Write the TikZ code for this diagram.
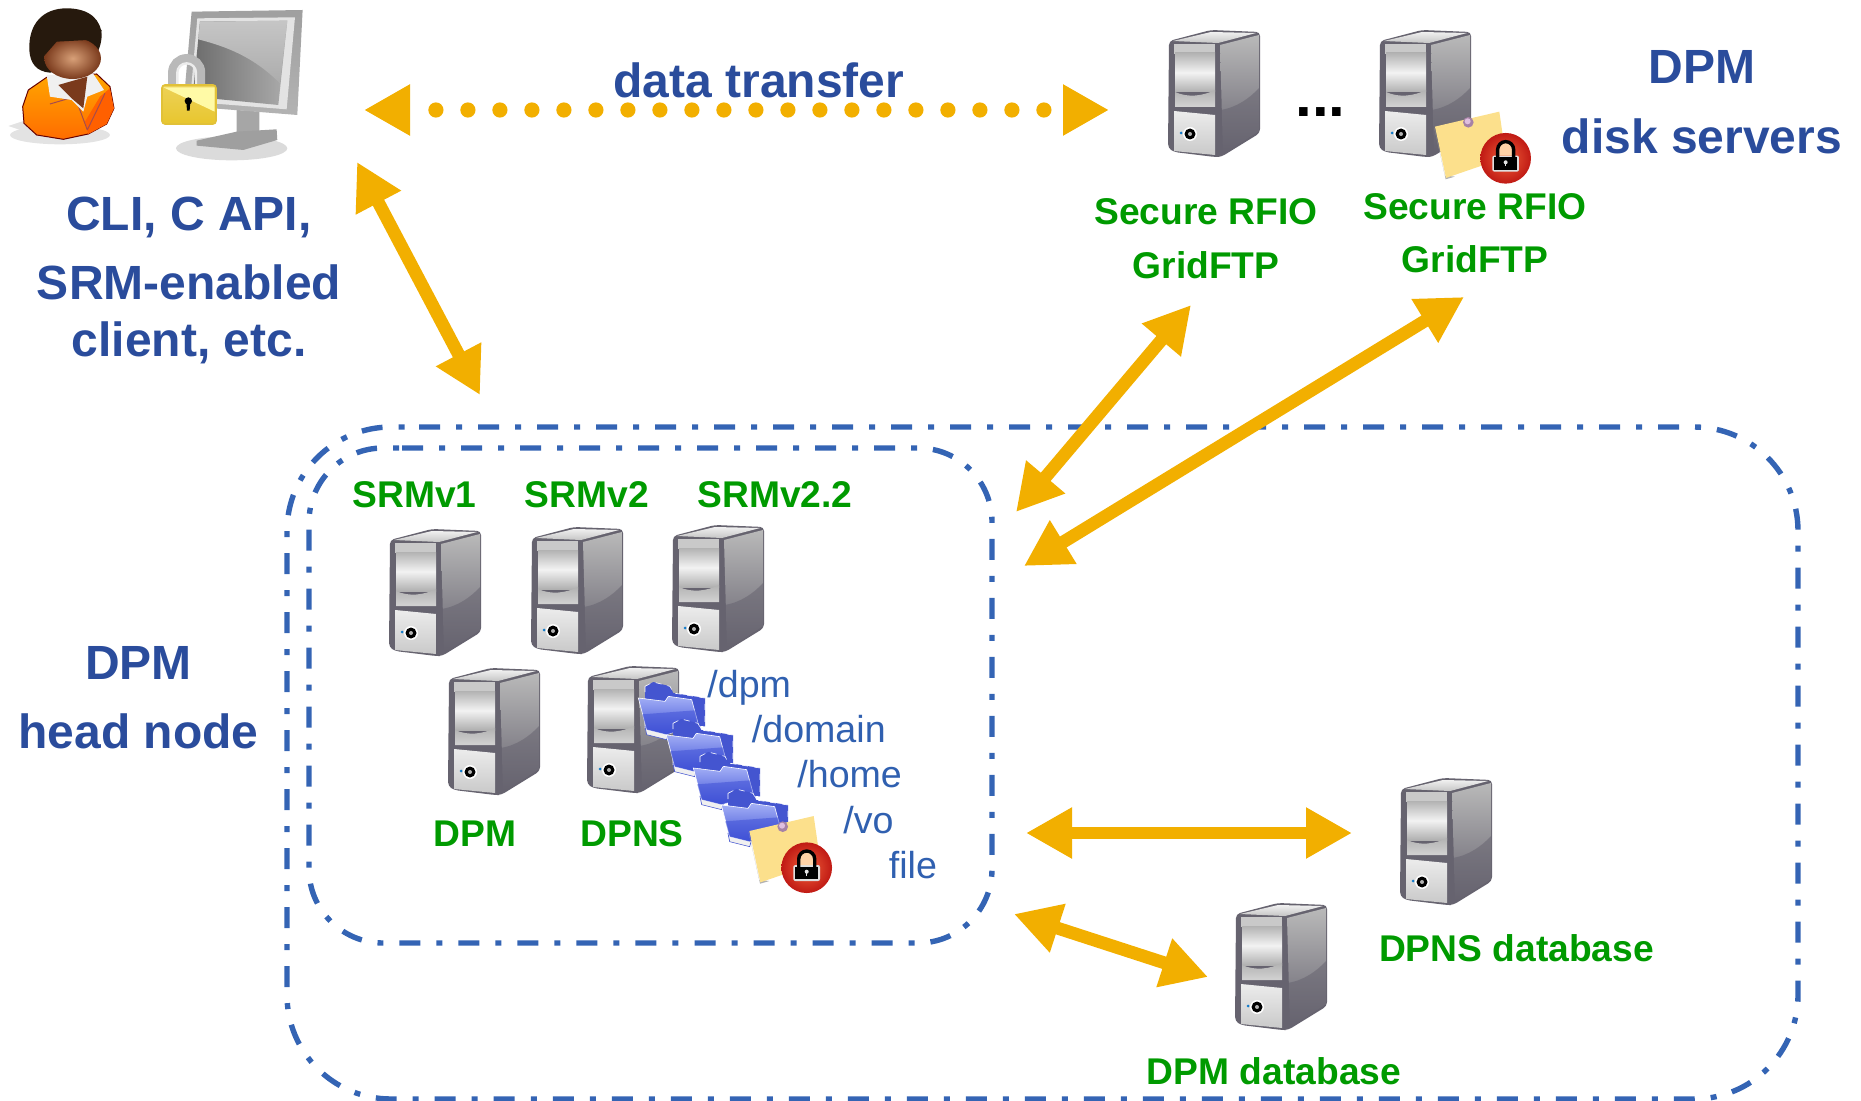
\documentclass[tikz,border=0pt]{standalone}
\usepackage{fontspec}
\setmainfont{Liberation Sans}
\usetikzlibrary{arrows.meta}
\definecolor{hblue}{HTML}{2A4C9C}
\definecolor{pblue}{HTML}{3060B0}
\definecolor{dblue}{HTML}{3464B4}
\definecolor{grn}{HTML}{009A00}
\definecolor{org}{HTML}{F2AF00}
\definecolor{srvdark}{HTML}{66636F}
\definecolor{fback}{HTML}{4455D0}
\definecolor{ftop}{HTML}{A4B0F6}
\definecolor{fbot}{HTML}{3E50D6}
\definecolor{skinout}{HTML}{7A3A1C}
\definecolor{skinin}{HTML}{D8A078}
\definecolor{lockgold}{HTML}{E8C62E}
\definecolor{notey}{HTML}{FCE08C}
\definecolor{discin}{HTML}{F0603A}
\definecolor{discout}{HTML}{C01A14}
\tikzset{
  x=0.5pt,y=-0.5pt,
  bighead/.style={font=\fontsize{24}{28}\selectfont\bfseries,text=hblue,anchor=base,inner sep=0pt},
  grnlab/.style={font=\fontsize{18.6}{22}\selectfont\bfseries,text=grn,anchor=base,inner sep=0pt},
  pathlab/.style={font=\fontsize{18.8}{22}\selectfont,text=pblue,anchor=base west,inner sep=0pt},
  boxline/.style={draw=dblue,line width=2.7pt,dash pattern=on 10.5pt off 8pt on 3pt off 8pt},
  bigarrow/.style={draw=org,line width=6.4pt,{Triangle[length=23pt,width=24pt,fill=org]}-{Triangle[length=23pt,width=24pt,fill=org]}},
  dotarrow/.style={draw=org,line width=7.6pt,line cap=round,dash pattern=on 0pt off 16pt,dash phase=1.6pt,
     {Triangle[length=23pt,width=24pt,fill=org]}-{Triangle[length=23pt,width=24pt,fill=org]}},
  srv/.pic={
    \fill[srvdark,rounded corners=2pt] (1,11)--(43,0)--(92,2)--(92,103)--(53,127)--(47,127)--(6,122)--(0,118)--cycle;
    \shade[top color=gray!12,bottom color=gray!45] (5,11)--(43,2)--(88,3)--(50,13)--cycle;
    \fill[gray!42] (6,14)--(47,14)--(47,24)--(6,24)--cycle;
    \shade[top color=gray!60,bottom color=gray!62,middle color=gray!10] (7,23)--(47,23)--(47,62)--(7,62)--cycle;
    \shade[top color=gray!60,bottom color=gray!35] (7,62)..controls (20,68) and (35,66) ..(47,60)--(47,77)--(7,77)--cycle;
    \shade[top color=gray!15,bottom color=gray!42] (6,81)--(47,85)--(47,125)--(6,121)--cycle;
    \shade[top color=gray!55,bottom color=srvdark] (52,15)--(91,5)--(91,101)--(55,124)--cycle;
    \fill[srvdark,opacity=.55] (52,80)..controls (68,78) and (82,68)..(91,58)--(91,101)--(55,124)--cycle;
    \fill[white] (22,104) circle[radius=7];
    \fill[black] (22,104) circle[radius=5.5];
    \fill[gray!60] (22,104) circle[radius=2];
    \fill[cyan!60!blue] (13,103) circle[radius=1.5];
  },
  folderpic/.pic={
    \fill[fback,draw=white,line width=.3pt,dashed] (0,13)--(25,0)--(75,13)--(85,33)--(180,48)--(180,133)--(0,143)--cycle;
    \fill[gray!12,draw=fback,line width=.3pt] (0,133)--(70,155)--(65,173)--(5,158)--cycle;
    \shade[top color=ftop,bottom color=fbot,draw=white,line width=.3pt]
       (-20,48)--(60,58)--(70,43)--(140,53)--(160,128)--(65,158)--(5,143)--cycle;
    \fill[fbot,opacity=.55] (-8,97)--(150,85)--(160,128)--(65,158)--(5,143)--cycle;
  },
}
% sticky note with red lock: #1,#2 pin position, #3,#4 lock-disc position
\newcommand{\secnote}[4]{%
  \begin{scope}[shift={(#1,#2)},scale=0.3333]
    \fill[gray!60] (-102,17)--(-68,171)--(-40,163)--(-70,160)--cycle;
    \fill[notey] (-100,13)--(93,-32)--(113,105)--(-67,167)--cycle;
    \fill[violet!40!gray!70] (0,0) circle[radius=16];
    \fill[violet!25!white] (-2,-3) circle[radius=9];
    \begin{scope}[shift={(#3,#4)}]
      \shade[inner color=discin,outer color=discout] (0,0) circle[radius=76];
      \fill[white!75!gray,rounded corners=1pt] (-40,-8) rectangle (40,40);
      \fill[orange!35!white] (-22,-8)--(-22,-26) arc[start angle=180,end angle=360,radius=22]--(22,-8)--cycle;
      \draw[black,line width=1.7pt] (-24,-2)--(-24,-26) arc[start angle=180,end angle=360,radius=24]--(24,-2);
      \fill[black] (-35,-3) rectangle (35,35);
      \fill[white!80!gray] (0,12) circle[radius=6];
      \fill[white!80!gray] (-2,12) rectangle (2,24);
    \end{scope}
  \end{scope}}
\begin{document}
\begin{tikzpicture}
\useasboundingbox (0,0) rectangle (1861,1101);
% person
\begin{scope}[scale=0.3333]
  \fill[gray!22] (180,405) ellipse[x radius=150,y radius=28];
  \fill[gray!22] (25,378)--(80,360)--(90,400)--cycle;
  \shade[top color=orange!70!yellow,bottom color=orange!85!red,draw=red!40!black,line width=.5pt]
    (140,232)--(290,222)--(330,260)--(342,325)--(320,372)--(265,402)--(190,418)--(110,405)--(72,370)--(68,320)--(85,270)--cycle;
  \fill[orange!75!red] (255,365)--(300,290)--(330,265)--(342,325)--(320,372)--(265,402)--cycle;
  \draw[red!50!black!70,line width=.5pt] (150,312)--(225,290)--(262,390) (262,390)--(315,280);
  \fill[gray!12] (140,225)--(280,222)--(312,270)--(262,290)--(250,335)--(215,300)--(150,290)--cycle;
  \fill[skinout] (175,255)--(262,230)--(250,325)--(215,295)--cycle;
  \fill[black!80!brown] (88,150)..controls (85,70) and (130,25) .. (200,25)..controls (270,25) and (305,60) ..(305,110)..controls (300,170) and (270,200)..(150,218)..controls(110,215) and (90,190)..(88,150)--cycle;
  \shade[inner color=skinin,outer color=skinout] (218,175) ellipse[x radius=85,y radius=62];
  \fill[black!80!brown] (135,165)--(170,125)--(300,118)--(305,90)--(150,70)--(110,130)--cycle;
  % monitor
  \fill[gray!28] (695,445) ellipse[x radius=167,y radius=36];
  \fill[gray!70] (710,330)--(778,335)--(778,400)--(710,400)--cycle;
  \fill[gray!75] (590,422)--(710,395)--(830,388)--(832,420)--(730,450)--(590,437)--cycle;
  \shade[top color=gray!75,bottom color=gray!60] (575,35)--(908,30)--(892,345)--(550,318)--cycle;
  \fill[gray!22] (592,55)--(885,52)--(860,328)--(570,305)--cycle;
  \shade[left color=gray!85!black,right color=gray!65] (600,65)--(862,62)--(835,315)--(578,290)--cycle;
  \shade[top color=gray!45,bottom color=gray!65] (600,65)--(862,62)--(840,250)..controls (760,170) and (680,140) ..(595,118)--cycle;
  \draw[gray!55,line width=4.6pt] (518,262)--(518,218) arc[start angle=180,end angle=360,radius=42]--(602,262);
  \draw[white!85!gray,line width=1.2pt] (532,262)--(532,218) arc[start angle=180,end angle=360,radius=28]--(588,262);
  \shade[top color=lockgold!80!white,bottom color=lockgold,draw=yellow!50!brown,line width=.8pt,rounded corners=1.5pt] (486,255) rectangle (648,372);
  \fill[yellow!35!white] (490,262)--(644,262)--(644,335)--cycle;
  \fill[black] (565,303) circle[radius=11];
  \fill[black] (559,303)--(571,303)--(569,332)--(561,332)--cycle;
\end{scope}
% servers
\pic (srvA) at (1168,30) {srv};
\pic (srvB) at (1379,30) {srv};
\pic (srvC) at (389,529) {srv};
\pic (srvD) at (531,527) {srv};
\pic (srvE) at (672,525) {srv};
\pic (srvF) at (448,668) {srv};
\pic (srvG) at (587,666) {srv};
\pic (srvH) at (1400,778) {srv};
\pic (srvI) at (1235,903) {srv};
% folders
\pic[scale=0.3333] (fa) at (645,682) {folderpic};
\pic[scale=0.3333] (fb) at (673,719) {folderpic};
\pic[scale=0.3333] (fc) at (700,752) {folderpic};
\pic[scale=0.3333] (fd) at (728,789) {folderpic};
\secnote{1468.3}{122.3}{112}{108}
\secnote{782.7}{826.7}{72}{123}
% dash-dot boxes
\draw[boxline,rounded corners=52pt] (419,427)--(1798,427)--(1798,1099)--(287,1099)--(287,427)--(419,427);
\draw[boxline,rounded corners=37pt] (402,448)--(992,448)--(992,943)--(309,943)--(309,448)--(402,448);
% text
\node[bighead] (t1) at (189,231) {CLI, C API,};
\node[bighead] (t2) at (189,300) {SRM-enabled};
\node[bighead] (t3) at (189,357) {client, etc.};
\node[bighead] (t4) at (759,98) {data transfer};
\node[bighead] (t5) at (1702,84) {DPM};
\node[bighead] (t6) at (1702,154) {disk servers};
\node[bighead] (t7) at (138.5,679) {DPM};
\node[bighead] (t8) at (138.5,748) {head node};
\node[grnlab] (g1) at (1206,225) {Secure RFIO};
\node[grnlab] (g2) at (1206,279) {GridFTP};
\node[grnlab] (g3) at (1475,220) {Secure RFIO};
\node[grnlab] (g4) at (1475,273) {GridFTP};
\node[grnlab] (g5) at (414.5,507) {SRMv1};
\node[grnlab] (g6) at (587,507) {SRMv2};
\node[grnlab] (g7) at (775,507) {SRMv2.2};
\node[grnlab] (g8) at (475,846) {DPM};
\node[grnlab] (g9) at (632,846) {DPNS};
\node[grnlab] (g10) at (1516.5,961) {DPNS database};
\node[grnlab] (g11) at (1274,1084) {DPM database};
\node[pathlab] (p1) at (707,697) {/dpm};
\node[pathlab] (p2) at (751.5,742) {/domain};
\node[pathlab] (p3) at (797,787) {/home};
\node[pathlab] (p4) at (843,833) {/vo};
\node[pathlab] (p5) at (888.5,878) {file};
\node[font=\fontsize{30}{34}\selectfont\bfseries,anchor=base,inner sep=0pt] (dots) at (1320.5,117) {...};
% connector ends
\coordinate (a1) at (357,162);
\coordinate (a2) at (480,395);
\coordinate (b1) at (1191,305);
\coordinate (b2) at (1016,512);
\coordinate (c1) at (1464,297);
\coordinate (c2) at (1024,566);
\coordinate (d1) at (1026,833);
\coordinate (d2) at (1352,833);
\coordinate (e1) at (1014,914);
\coordinate (e2) at (1208,977);
\coordinate (f1) at (364,110);
\coordinate (f2) at (1109,110);
\draw[bigarrow] (a1)--(a2);
\draw[bigarrow] (b1)--(b2);
\draw[bigarrow] (c1)--(c2);
\draw[bigarrow] (d1)--(d2);
\draw[bigarrow] (e1)--(e2);
\draw[dotarrow] (f1)--(f2);
\end{tikzpicture}
\end{document}
